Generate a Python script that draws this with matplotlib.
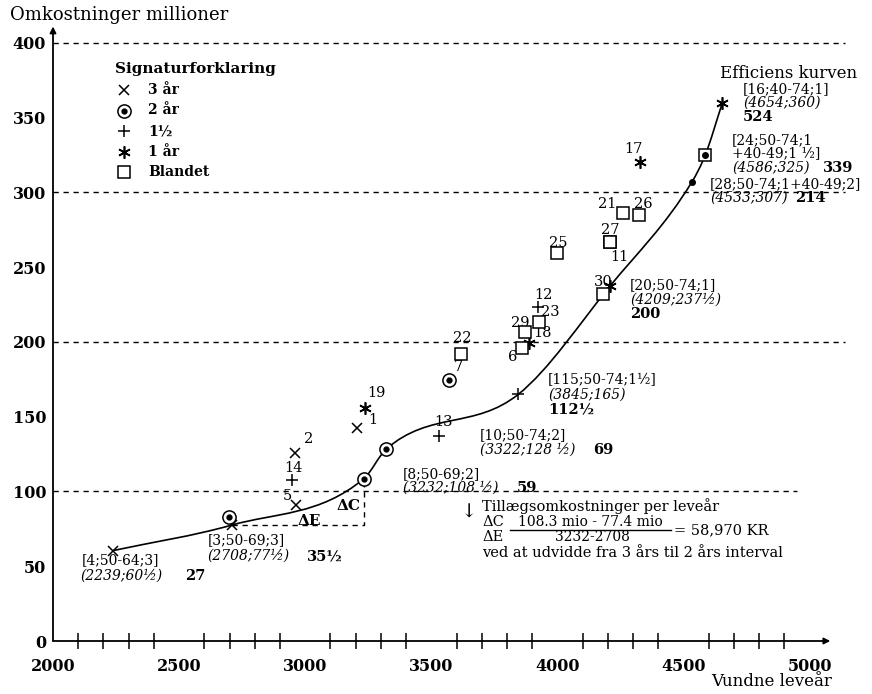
import matplotlib.pyplot as plt
from matplotlib.path import Path
from matplotlib.patches import PathPatch
from matplotlib.lines import Line2D

plt.rcParams['font.family'] = ['DejaVu Serif']

W, H = 872, 694

# efficienskurven: vundne leveår og omkostninger (mio)
kurve_x = [2239, 2708, 3232, 3322, 3845, 4209, 4533, 4586, 4654]
kurve_y = [60.5, 77.5, 108.5, 128.5, 165, 237.5, 307, 325, 360]
kurve_sig = ['3', '3', '2', '2', '1.5', '1', 'prik', 'blandet', '1']

# øvrige strategier, nummereret
tre_nr = ['2', '5', '1']
tre_x = [2960, 2965, 3205]
tre_y = [126, 91, 142.5]

to_nr = ['', '7']
to_x = [2698, 3570]
to_y = [83, 174.5]

halv_nr = ['14', '13', '12']
halv_x = [2948, 3530, 3923]
halv_y = [108, 137, 223.5]

et_nr = ['19', '18', '17']
et_x = [3237, 3887, 4327]
et_y = [156, 199.5, 320.5]

bl_nr = ['22', '6', '29', '23', '25', '30', '27', '11', '21', '26']
bl_x = [3617, 3859, 3871, 3926, 3998, 4180, 4208, 4208, 4259, 4323]
bl_y = [192, 196, 206.5, 213.5, 259.5, 232, 267, 267, 286, 285]

legend_sig = ['3', '2', '1.5', '1', 'blandet']
legend_txt = ['3 år', '2 år', '1½', '1 år', 'Blandet']

# placering af numrene i forhold til punktet (points)
nr_offset = {
    '2': (10, 10), '5': (-6.5, 6.5), '1': (11.5, 6), '14': (0.7, 8),
    '13': (3, 10), '12': (3.6, 8.6), '19': (8.6, 10.8), '18': (10, 7),
    '17': (-5, 9.4), '7': (7, 9.4), '22': (0.7, 11.5), '6': (-6.5, -6.5),
    '29': (-3, 7), '23': (8, 7), '25': (0.7, 7), '30': (0, 8.6),
    '27': (0, 8.6), '11': (7, -11), '21': (-11, 6.5), '26': (3, 8),
}

stil = {
    '3': dict(marker='x', ms=7, mew=1.1, color='k', ls='none'),
    '2': dict(marker='o', ms=9.5, mfc='white', mec='k', mew=1.1, ls='none'),
    '1.5': dict(marker='+', ms=8.5, mew=1.1, color='k', ls='none'),
    '1': dict(marker=(6, 2, 0), ms=9, mew=1.2, color='k', ls='none'),
    'blandet': dict(marker='s', ms=8, mfc='white', mec='k', mew=1.1, ls='none'),
    'prik': dict(marker='o', ms=4, color='k', ls='none'),
}

fig = plt.figure(figsize=(W / 100, H / 100), dpi=100)
ax = fig.add_axes([53 / W, (H - 641) / H, 797 / W, 616 / H])
ax.set_xlim(2000, 5160)
ax.set_ylim(0, 412)
for s in ax.spines.values():
    s.set_visible(False)


def tegn(x, y, sig):
    ax.plot(x, y, zorder=4, **stil[sig])
    if sig in ('2', 'blandet_prik'):
        ax.plot(x, y, marker='o', ms=3.5, color='k', ls='none', zorder=5)


def tekst(px, py, s, **kw):
    fig.text(px / W, 1 - py / H, s, va='center', **kw)


def glat_kurve(xs, ys):
    # monoton kubisk kurve gennem punkterne (Fritsch-Carlson)
    n = len(xs)
    d = [(ys[i + 1] - ys[i]) / (xs[i + 1] - xs[i]) for i in range(n - 1)]
    m = [d[0]] + [(d[i - 1] + d[i]) / 2 for i in range(1, n - 1)] + [d[-1]]
    for i in range(n - 1):
        a, b = m[i] / d[i], m[i + 1] / d[i]
        q = a * a + b * b
        if q > 9:
            t = 3 / q ** 0.5
            m[i], m[i + 1] = t * a * d[i], t * b * d[i]
    verts = [(xs[0], ys[0])]
    codes = [Path.MOVETO]
    for i in range(n - 1):
        h = (xs[i + 1] - xs[i]) / 3
        verts += [(xs[i] + h, ys[i] + m[i] * h),
                  (xs[i + 1] - h, ys[i + 1] - m[i + 1] * h),
                  (xs[i + 1], ys[i + 1])]
        codes += [Path.CURVE4] * 3
    return Path(verts, codes)


# akser med pile
pil = dict(arrowstyle='-|>', lw=1.3, color='k', mutation_scale=9, shrinkA=0, shrinkB=0)
ax.annotate('', xy=(2000, 411), xytext=(2000, 0), arrowprops=pil)
ax.annotate('', xy=(5082, 0), xytext=(2000, 0), arrowprops=pil)

ax.set_xticks(range(2000, 5001, 500))
ax.set_xticks([v for v in range(2100, 5001, 100)], minor=True)
ax.set_yticks(range(0, 401, 50))
ax.tick_params(axis='x', which='major', length=0, pad=12, labelsize=11.5)
ax.tick_params(axis='x', which='minor', length=11, width=1.1, direction='inout')
ax.tick_params(axis='y', length=0, pad=5, labelsize=11.5)
for lab in ax.get_xticklabels() + ax.get_yticklabels():
    lab.set_fontweight('bold')

# stiplede hjælpelinjer
for niveau, slut in [(100, 4949), (200, 5139), (300, 5139), (400, 5139)]:
    ax.plot([2000, slut], [niveau, niveau], color='k', lw=1, dashes=(3.8, 3.4), zorder=1)

# ΔE og ΔC mellem 3- og 2-års punkterne
ax.plot([kurve_x[1], kurve_x[2], kurve_x[2]], [kurve_y[1], kurve_y[1], kurve_y[2]],
        color='k', lw=1, dashes=(3.8, 3.4), zorder=1)

ax.add_patch(PathPatch(glat_kurve(kurve_x, kurve_y), fill=False, lw=1.2, ec='k', zorder=3))

for x, y, sig in zip(kurve_x, kurve_y, kurve_sig):
    tegn(x, y, sig)
    if sig == 'blandet':
        ax.plot(x, y, zorder=5, **stil['prik'])

for nr, xs, ys, sig in [(tre_nr, tre_x, tre_y, '3'), (to_nr, to_x, to_y, '2'),
                        (halv_nr, halv_x, halv_y, '1.5'), (et_nr, et_x, et_y, '1'),
                        (bl_nr, bl_x, bl_y, 'blandet')]:
    for n, x, y in zip(nr, xs, ys):
        tegn(x, y, sig)
        if n:
            ax.annotate(n, (x, y), xytext=nr_offset[n], textcoords='offset points',
                        ha='center', va='center', fontsize=10.5)

# tekster ved kurvepunkterne
ital = dict(fontsize=10, style='italic')
norm = dict(fontsize=10)
fed = dict(fontsize=10.5, fontweight='bold')

tekst(82, 560, '[4;50-64;3]', **norm)
tekst(80, 576, '(2239;60½)', **ital)
tekst(185, 576, '27', **fed)

tekst(208, 540, '[3;50-69;3]', **norm)
tekst(207, 556, '(2708;77½)', **ital)
tekst(307, 556, '35½', **fed)

tekst(403, 474, '[8;50-69;2]', **norm)
tekst(403, 488, '(3232;108 ½)', **ital)
tekst(517, 488, '59', **fed)

tekst(480, 435, '[10;50-74;2]', **norm)
tekst(480, 450, '(3322;128 ½)', **ital)
tekst(593, 450, '69', **fed)

tekst(548, 380, '[115;50-74;1½]', **norm)
tekst(548, 395, '(3845;165)', **ital)
tekst(548, 409, '112½', **fed)

tekst(630, 285, '[20;50-74;1]', **norm)
tekst(630, 300, '(4209;237½)', **ital)
tekst(630, 314, '200', **fed)

tekst(710, 184, '[28;50-74;1+40-49;2]', **norm)
tekst(710, 198, '(4533;307)', **ital)
tekst(795, 198, '214', **fed)

tekst(732, 140, '[24;50-74;1', **norm)
tekst(732, 154, '+40-49;1 ½]', **norm)
tekst(732, 168, '(4586;325)', **ital)
tekst(823, 168, '339', **fed)

tekst(720, 73, 'Efficiens kurven', fontsize=12)
tekst(743, 89, '[16;40-74;1]', **norm)
tekst(743, 103, '(4654;360)', **ital)
tekst(743, 117, '524', **fed)

tekst(337, 506, 'ΔC', fontsize=11, fontweight='bold')
tekst(298, 521, 'ΔE', fontsize=11, fontweight='bold')

# beregning af tillægsomkostninger
tekst(461, 513, '↓', fontsize=14)
tekst(482, 506, 'Tillægsomkostninger per leveår', fontsize=10.5)
tekst(482, 522, 'ΔC', fontsize=10.5)
tekst(482, 537, 'ΔE', fontsize=10.5)
tekst(590, 522, '108.3 mio - 77.4 mio', fontsize=10, ha='center')
tekst(592, 537, '3232-2708', fontsize=10, ha='center')
fig.add_artist(Line2D([510 / W, 671 / W], [1 - 530 / H, 1 - 530 / H], color='k', lw=1))
tekst(674, 530, '= 58,970 KR', fontsize=10.5)
tekst(482, 553, 'ved at udvidde fra 3 års til 2 års interval', fontsize=10.5)

# signaturforklaring
tekst(115, 69, 'Signaturforklaring', fontsize=11, fontweight='bold')
for i, (sig, txt) in enumerate(zip(legend_sig, legend_txt)):
    py = 90 + i * 20.5
    ax.plot(124 / W, 1 - py / H, transform=fig.transFigure, clip_on=False, **stil[sig])
    if sig == '2':
        ax.plot(124 / W, 1 - py / H, transform=fig.transFigure, clip_on=False,
                marker='o', ms=3.5, color='k', ls='none')
    tekst(148, py, txt, fontsize=10, fontweight='bold')

tekst(10, 15, 'Omkostninger millioner', fontsize=13)
tekst(832, 682, 'Vundne leveår', fontsize=12, ha='right')

fig.savefig('out.png', dpi=100)
